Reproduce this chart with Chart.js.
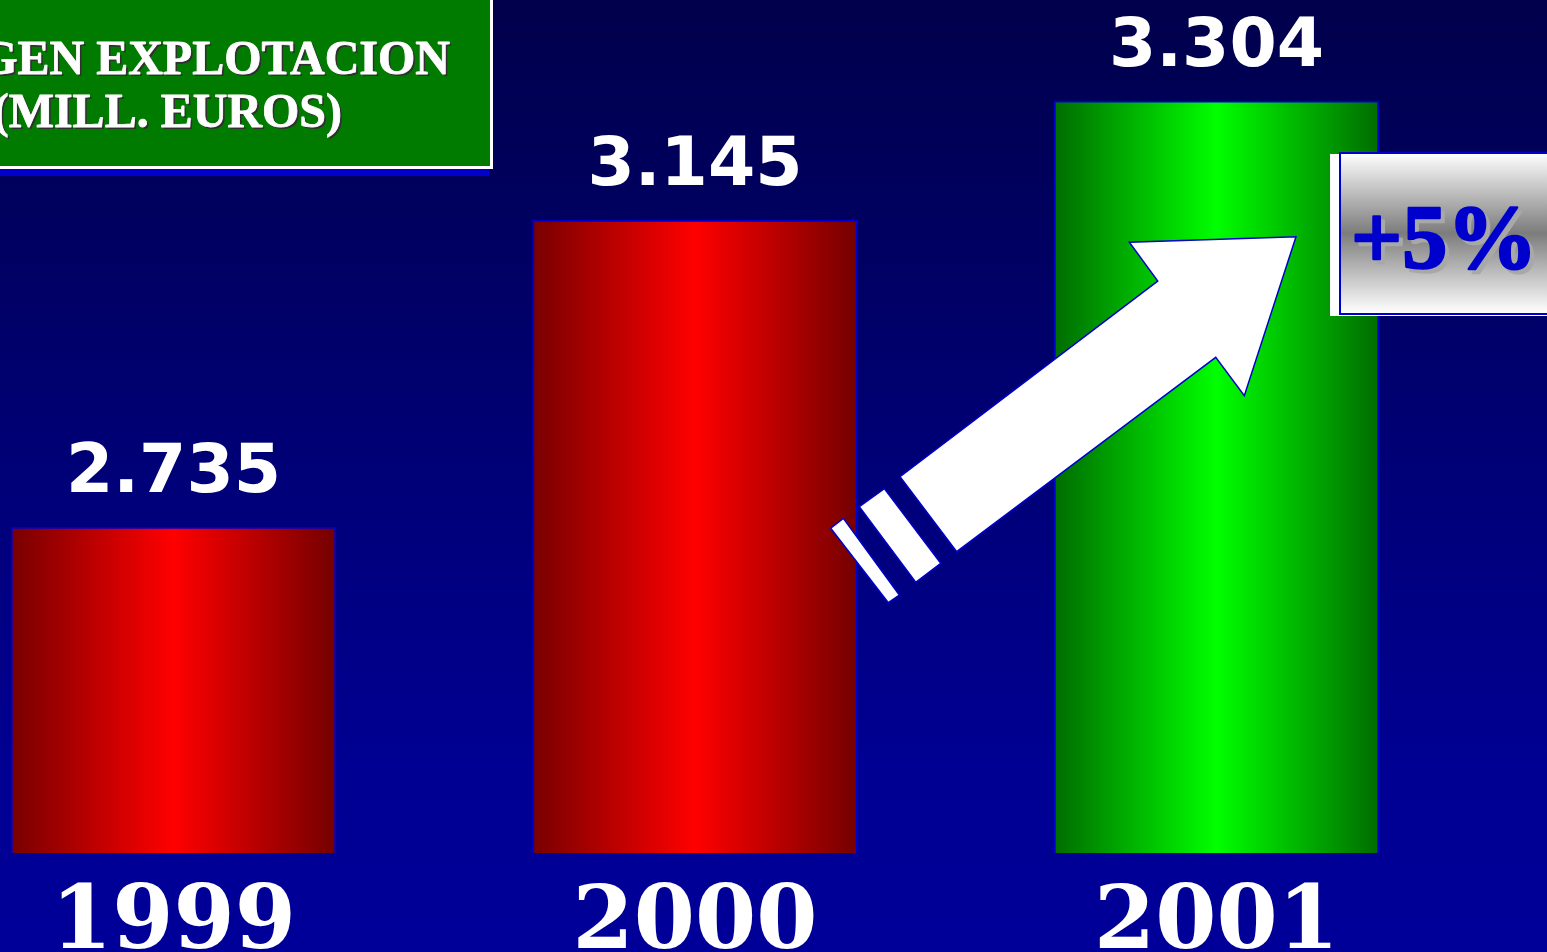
<!DOCTYPE html>
<html>
<head>
<meta charset="utf-8">
<script src="https://cdn.jsdelivr.net/npm/chart.js@4.4.1/dist/chart.umd.min.js"></script>
<style>
  html, body { margin: 0; padding: 0; background: #000070; overflow: hidden; }
  #wrap { width: 1547px; height: 952px; position: relative; }
</style>
</head>
<body>
<div id="wrap"><canvas id="c" width="1547" height="952"></canvas></div>
<script>
// ---- data ----
const years = ["1999", "2000", "2001"];
const values = [2.735, 3.145, 3.304];
const valueLabels = ["2.735", "3.145", "3.304"];
const titleLines = ["MARGEN EXPLOTACION", "(MILL. EUROS)"];
const growthLabel = "+5%";

// arrow annotation, in data units (x: category index, y: value)
const arrowBody = [[1.3931, 2.8022], [1.8873, 3.0635], [1.8328, 3.1152], [2.1524, 3.1227],
                   [2.0533, 2.9104], [1.9985, 2.9616], [1.5018, 2.7020]];
const arrowStripe1 = [[1.3151, 2.7621], [1.3630, 2.7862], [1.4712, 2.6865], [1.4232, 2.6612]];
const arrowStripe2 = [[1.2602, 2.7333], [1.2844, 2.7466], [1.3918, 2.6442], [1.3707, 2.6339]];

const BAR_W = 325;

function barGradient(ctx) {
  const chart = ctx.chart;
  if (!chart.chartArea || !chart.scales.x) return '#ff0000';
  const cx = chart.scales.x.getPixelForValue(ctx.dataIndex);
  const g = chart.ctx.createLinearGradient(cx - BAR_W / 2, 0, cx + BAR_W / 2, 0);
  if (ctx.dataIndex === 2) {
    g.addColorStop(0, '#006c00');
    g.addColorStop(0.5, '#00ff00');
    g.addColorStop(1, '#006c00');
  } else {
    g.addColorStop(0, '#780000');
    g.addColorStop(0.5, '#ff0000');
    g.addColorStop(1, '#740000');
  }
  return g;
}

const decor = {
  id: 'decor',
  beforeDraw(chart) {
    const c = chart.ctx;
    const W = chart.width, H = chart.height;
    const g = c.createLinearGradient(0, 0, 0, H);
    g.addColorStop(0, '#00004c');
    g.addColorStop(0.8, '#000092');
    g.addColorStop(1, '#000099');
    c.save();
    c.fillStyle = g;
    c.fillRect(0, 0, W, H);
    c.restore();
  },
  afterDatasetsDraw(chart) {
    const c = chart.ctx;
    const meta = chart.getDatasetMeta(0);
    // value labels
    c.save();
    c.fillStyle = '#ffffff';
    c.font = 'bold 68px "DejaVu Sans"';
    c.textAlign = 'center';
    c.textBaseline = 'alphabetic';
    meta.data.forEach((el, i) => {
      c.fillText(valueLabels[i], el.x, el.y - 35);
    });
    c.restore();

    // arrow
    const xs = chart.scales.x, ys = chart.scales.y;
    const poly = (pts) => {
      c.beginPath();
      pts.forEach((p, k) => {
        const px = xs.getPixelForValue(p[0]), py = ys.getPixelForValue(p[1]);
        if (k === 0) c.moveTo(px, py); else c.lineTo(px, py);
      });
      c.closePath();
      c.fillStyle = '#ffffff';
      c.fill();
      c.lineWidth = 1.5;
      c.strokeStyle = '#0000cc';
      c.stroke();
    };
    c.save();
    poly(arrowStripe2);
    poly(arrowStripe1);
    poly(arrowBody);
    c.restore();

    // title box
    c.save();
    c.fillStyle = '#0000c8';
    c.fillRect(0, 168, 489, 8);
    c.fillStyle = '#ffffff';
    c.fillRect(0, 0, 493, 169);
    c.fillStyle = '#007b00';
    c.fillRect(0, 0, 490, 166);
    c.font = 'bold 48px "Liberation Serif"';
    c.textAlign = 'right';
    c.textBaseline = 'alphabetic';
    c.lineJoin = 'round';
    c.fillStyle = '#303030';
    c.fillText(titleLines[0], 452, 76);
    c.fillText(titleLines[1], 344, 129);
    c.fillStyle = '#ffffff';
    c.strokeStyle = '#ffffff';
    c.lineWidth = 0.8;
    c.fillText(titleLines[0], 450, 74);
    c.strokeText(titleLines[0], 450, 74);
    c.fillText(titleLines[1], 342, 127);
    c.strokeText(titleLines[1], 342, 127);
    c.restore();

    // growth box
    c.save();
    c.fillStyle = '#ffffff';
    c.fillRect(1330, 154, 230, 162);
    const gg = c.createLinearGradient(0, 153, 0, 313);
    gg.addColorStop(0, '#ffffff');
    gg.addColorStop(0.5, '#7c7c7c');
    gg.addColorStop(1, '#ffffff');
    c.fillStyle = gg;
    c.fillRect(1340, 153, 220, 161);
    c.strokeStyle = '#0000cc';
    c.lineWidth = 2;
    c.strokeRect(1340, 153, 220, 161);
    c.font = 'bold 90px "Liberation Serif"';
    c.textAlign = 'left';
    c.textBaseline = 'alphabetic';
    c.lineJoin = 'round';
    c.fillStyle = '#a8a8a8';
    c.strokeStyle = '#a8a8a8';
    c.lineWidth = 2.5;
    c.fillText(growthLabel, 1355, 272);
    c.strokeText(growthLabel, 1355, 272);
    c.fillStyle = '#0000cc';
    c.strokeStyle = '#0000cc';
    c.fillText(growthLabel, 1351, 268);
    c.strokeText(growthLabel, 1351, 268);
    c.restore();
  }
};

const chart = new Chart(document.getElementById('c'), {
  type: 'bar',
  data: {
    datasets: [{
      data: values.map((v, i) => ({ x: i, y: v })),
      backgroundColor: barGradient,
      borderColor: '#0000cc',
      borderWidth: 2,
      borderSkipped: false,
      barThickness: BAR_W
    }]
  },
  options: {
    responsive: false,
    animation: false,
    devicePixelRatio: 1,
    layout: { padding: 0 },
    plugins: { legend: { display: false }, tooltip: { enabled: false }, title: { display: false } },
    scales: {
      x: {
        type: 'linear',
        min: -0.3327,
        max: 2.6337,
        offset: false,
        grid: { display: false, drawTicks: false },
        border: { display: false },
        afterBuildTicks(scale) { scale.ticks = years.map((y, i) => ({ value: i })); },
        afterFit(scale) { scale.height = 99; },
        ticks: {
          color: '#ffffff',
          font: { family: 'DejaVu Serif', weight: 'bold', size: 88 },
          padding: 19,
          maxRotation: 0,
          autoSkip: false,
          callback: (v) => years[v] !== undefined ? years[v] : ''
        }
      },
      y: {
        display: false,
        min: 2.29964,
        max: 3.4388
      }
    }
  },
  plugins: [decor]
});
</script>
</body>
</html>
